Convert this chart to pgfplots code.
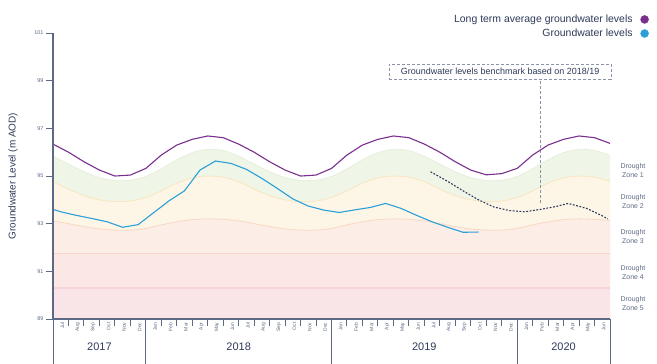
\documentclass[border=0pt]{standalone}
\usepackage{fontspec}
\setmainfont{Liberation Sans}
\usepackage{pgfplots}
\pgfplotsset{compat=1.18}
\usepackage{pgfplotstable}

\definecolor{txt}{HTML}{2E3A59}
\definecolor{purp}{HTML}{7A2E8E}
\definecolor{blu}{HTML}{2A9FD8}
\definecolor{dsh}{HTML}{2F3B5A}
\definecolor{z1}{HTML}{EFF5E7}
\definecolor{z2}{HTML}{FDF6E7}
\definecolor{z3}{HTML}{FCEEE7}
\definecolor{z4}{HTML}{FBE8E5}
\definecolor{z5}{HTML}{F9E4E8}
\definecolor{l1}{HTML}{E6EFDC}
\definecolor{l2}{HTML}{F8E7C2}
\definecolor{l3}{HTML}{F9D9C4}
\definecolor{l4}{HTML}{F9D6CC}
\definecolor{l5}{HTML}{F7D4D7}
\definecolor{axc}{HTML}{5D6985}
\definecolor{bxc}{HTML}{8A93A8}

\pgfplotstableread{
m P G Y O
0 96.34 95.83 94.76 93.12
1 96.00 95.50 94.45 93.00
2 95.60 95.18 94.18 92.88
3 95.25 94.93 94.00 92.78
4 95.00 94.81 93.93 92.73
5 95.04 94.82 93.95 92.73
6 95.32 94.98 94.10 92.80
7 95.88 95.30 94.38 92.95
8 96.30 95.68 94.70 93.08
9 96.54 95.98 94.92 93.17
10 96.68 96.12 95.00 93.20
11 96.61 96.07 94.95 93.18
12 96.34 95.83 94.76 93.12
13 96.00 95.50 94.45 93.00
14 95.60 95.18 94.18 92.88
15 95.25 94.93 94.00 92.78
16 95.00 94.81 93.93 92.73
17 95.04 94.82 93.95 92.73
18 95.32 94.98 94.10 92.80
19 95.88 95.30 94.38 92.95
20 96.30 95.68 94.70 93.08
21 96.54 95.98 94.92 93.17
22 96.68 96.12 95.00 93.20
23 96.61 96.07 94.95 93.18
24 96.34 95.83 94.76 93.12
25 96.00 95.50 94.45 93.00
26 95.60 95.18 94.18 92.88
27 95.25 94.93 94.00 92.78
28 95.05 94.81 93.93 92.73
29 95.10 94.82 93.95 92.73
30 95.32 94.98 94.10 92.80
31 95.88 95.30 94.38 92.95
32 96.30 95.68 94.70 93.08
33 96.54 95.98 94.92 93.17
34 96.68 96.12 95.00 93.20
35 96.61 96.07 94.95 93.18
36 96.37 95.86 94.78 93.14
}\bands

\pgfplotstableread{
m v
0 93.60
0.5 93.50
1.5 93.35
2.5 93.22
3.5 93.08
4.5 92.85
5.5 92.96
6.5 93.46
7.5 93.96
8.5 94.38
9.5 95.25
10.5 95.63
11.5 95.53
12.5 95.28
13.5 94.90
14.5 94.48
15.5 94.04
16.5 93.74
17.5 93.57
18.5 93.47
19.5 93.58
20.5 93.68
21.5 93.85
22.5 93.64
23.5 93.35
24.5 93.08
25.5 92.85
26.5 92.64
27.5 92.65
}\gw

\pgfplotstableread{
m v
24.4 95.18
25.5 94.78
26.5 94.38
27.5 94.00
28.5 93.70
29.5 93.55
30.5 93.50
31.5 93.60
32.5 93.72
33.3 93.85
34.5 93.64
35.5 93.33
35.85 93.20
}\bench

\begin{document}
\begin{tikzpicture}
\path[use as bounding box] (0,0) rectangle (657bp,364bp);
\begin{axis}[
  at={(53bp,45bp)}, anchor=south west,
  scale only axis, width=557bp, height=286bp,
  xmin=0, xmax=36, ymin=89, ymax=101,
  axis x line*=bottom, axis y line*=left,
  axis line style={draw=axc, line width=1.4bp},
  axis on top,
  clip=false,
  tick align=outside,
  major tick length=0bp, minor tick length=6.5bp,
  tick style={draw=axc, line width=1bp},
  ytick={89,91,...,101}, minor ytick={89,91,...,101},
  xtick={0.5,1.5,...,35.5}, minor xtick={0,1,...,36},
  xticklabels={Jul,Aug,Sep,Oct,Nov,Dec,Jan,Feb,Mar,Apr,May,Jun,Jul,Aug,Sep,Oct,Nov,Dec,Jan,Feb,Mar,Apr,May,Jun,Jul,Aug,Sep,Oct,Nov,Dec,Jan,Feb,Mar,Apr,May,Jun},
  xticklabel style={rotate=90, anchor=east, font=\fontsize{5}{6}\selectfont, text=axc, yshift=-1.5bp},
  yticklabel style={font=\fontsize{5.5}{6}\selectfont, text=axc, xshift=-6bp},
  /pgf/number format/assume math mode=true,
  ylabel={Groundwater Level (m AOD)},
  ylabel style={at={(axis description cs:-0.0718,0.5)}, anchor=center, font=\fontsize{10}{12}\selectfont, text=txt},
  legend style={at={(1.070,1.071)}, anchor=north east, draw=none, fill=none, font=\fontsize{10.5}{12}\selectfont, text=txt, row sep=1bp, inner sep=0pt, legend cell align=right},
  legend plot pos=right,
]
% zone fills, painted from the top zone down
\addplot[fill=z1, draw=none, forget plot] coordinates {(0,95.83)(1,95.50)(2,95.18)(3,94.93)(4,94.81)(5,94.82)(6,94.98)(7,95.30)(8,95.68)(9,95.98)(10,96.12)(11,96.07)(12,95.83)(13,95.50)(14,95.18)(15,94.93)(16,94.81)(17,94.82)(18,94.98)(19,95.30)(20,95.68)(21,95.98)(22,96.12)(23,96.07)(24,95.83)(25,95.50)(26,95.18)(27,94.93)(28,94.81)(29,94.82)(30,94.98)(31,95.30)(32,95.68)(33,95.98)(34,96.12)(35,96.07)(36,95.86)(36,89)(0,89)};
\addplot[fill=z2, draw=none, forget plot] coordinates {(0,94.76)(1,94.45)(2,94.18)(3,94.00)(4,93.93)(5,93.95)(6,94.10)(7,94.38)(8,94.70)(9,94.92)(10,95.00)(11,94.95)(12,94.76)(13,94.45)(14,94.18)(15,94.00)(16,93.93)(17,93.95)(18,94.10)(19,94.38)(20,94.70)(21,94.92)(22,95.00)(23,94.95)(24,94.76)(25,94.45)(26,94.18)(27,94.00)(28,93.93)(29,93.95)(30,94.10)(31,94.38)(32,94.70)(33,94.92)(34,95.00)(35,94.95)(36,94.78)(36,89)(0,89)};
\addplot[fill=z3, draw=none, forget plot] coordinates {(0,93.12)(1,93.00)(2,92.88)(3,92.78)(4,92.73)(5,92.73)(6,92.80)(7,92.95)(8,93.08)(9,93.17)(10,93.20)(11,93.18)(12,93.12)(13,93.00)(14,92.88)(15,92.78)(16,92.73)(17,92.73)(18,92.80)(19,92.95)(20,93.08)(21,93.17)(22,93.20)(23,93.18)(24,93.12)(25,93.00)(26,92.88)(27,92.78)(28,92.73)(29,92.73)(30,92.80)(31,92.95)(32,93.08)(33,93.17)(34,93.20)(35,93.18)(36,93.14)(36,89)(0,89)};
\addplot[fill=z4, draw=none, forget plot] coordinates {(0,91.76)(36,91.76)(36,89)(0,89)};
\addplot[fill=z5, draw=none, forget plot] coordinates {(0,90.30)(36,90.30)(36,89)(0,89)};
% boundary lines
\addplot[draw=l1, line width=0.8bp, smooth, forget plot] table[x=m,y=G]{\bands};
\addplot[draw=l2, line width=0.9bp, smooth, forget plot] table[x=m,y=Y]{\bands};
\addplot[draw=l3, line width=0.9bp, smooth, forget plot] table[x=m,y=O]{\bands};
\addplot[draw=l4, line width=1.1bp, forget plot] coordinates {(0,91.76) (36,91.76)};
\addplot[draw=l5, line width=1.1bp, forget plot] coordinates {(0,90.30) (36,90.30)};
% benchmark marker line
\addplot[draw=bxc, densely dashed, line width=0.6bp, forget plot] coordinates {(31.48,93.86) (31.48,99.07)};
% series
\addplot[draw=purp, line width=1.1bp, forget plot] table[x=m,y=P]{\bands};
\addplot[draw=blu, line width=1.1bp, forget plot] table[x=m,y=v]{\gw};
\addplot[draw=dsh, line width=1.1bp, dash pattern=on 1.8bp off 1.6bp, forget plot] table[x=m,y=v]{\bench};
% legend
\addlegendimage{legend image code/.code={\path[draw=none,fill=none] (0bp,0bp) -- (14bp,0bp); \fill[purp] (10bp,0bp) circle (4bp);}}
\addlegendentry{Long term average groundwater levels}
\addlegendimage{legend image code/.code={\path[draw=none,fill=none] (0bp,0bp) -- (14bp,0bp); \fill[blu] (10bp,0bp) circle (4bp);}}
\addlegendentry{Groundwater levels}
% annotations
\node[draw=bxc, densely dashed, line width=0.6bp, fill=white, font=\fontsize{9}{10}\selectfont, text=txt, minimum width=222bp, minimum height=15bp, inner sep=1bp] at (axis cs:28.9,99.39) {Groundwater levels benchmark based on 2018/19};
\node[font=\fontsize{7}{9}\selectfont, text=axc, align=center] at (axis cs:36,95.23) [xshift=23bp] {Drought\\Zone 1};
\node[font=\fontsize{7}{9}\selectfont, text=axc, align=center] at (axis cs:36,93.95) [xshift=23bp] {Drought\\Zone 2};
\node[font=\fontsize{7}{9}\selectfont, text=axc, align=center] at (axis cs:36,92.48) [xshift=23bp] {Drought\\Zone 3};
\node[font=\fontsize{7}{9}\selectfont, text=axc, align=center] at (axis cs:36,90.97) [xshift=23bp] {Drought\\Zone 4};
\node[font=\fontsize{7}{9}\selectfont, text=axc, align=center] at (axis cs:36,89.64) [xshift=23bp] {Drought\\Zone 5};
\draw[draw=axc, line width=1bp] (axis cs:0,89) -- ++(0,-28bp);
\draw[draw=axc, line width=1bp] (axis cs:6,89) -- ++(0,-28bp);
\draw[draw=axc, line width=1bp] (axis cs:18,89) -- ++(0,-28bp);
\draw[draw=axc, line width=1bp] (axis cs:30,89) -- ++(0,-28bp);
\draw[draw=axc, line width=1bp] (axis cs:36,89) -- ++(0,-28bp);
\node[font=\fontsize{11}{12}\selectfont, text=txt] at (axis cs:3,89) [yshift=-27.7bp] {2017};
\node[font=\fontsize{11}{12}\selectfont, text=txt] at (axis cs:12,89) [yshift=-27.7bp] {2018};
\node[font=\fontsize{11}{12}\selectfont, text=txt] at (axis cs:24,89) [yshift=-27.7bp] {2019};
\node[font=\fontsize{11}{12}\selectfont, text=txt] at (axis cs:33,89) [yshift=-27.7bp] {2020};
\end{axis}
\end{tikzpicture}
\end{document}
